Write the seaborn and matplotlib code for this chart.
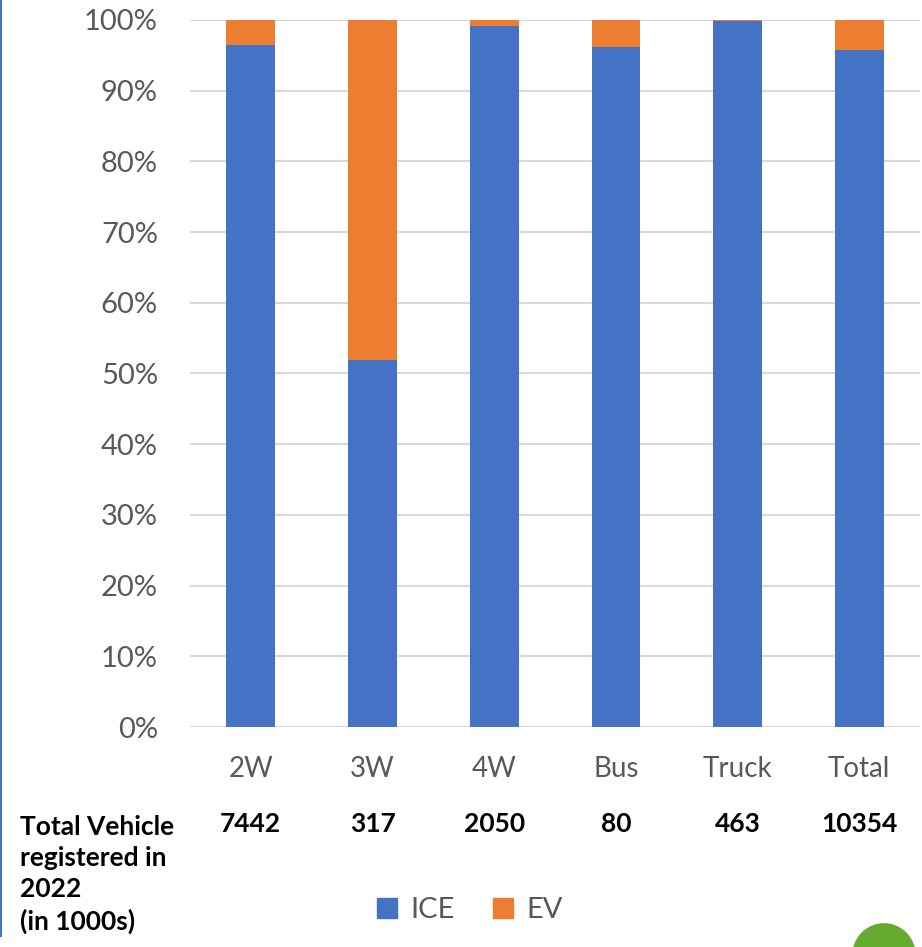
import matplotlib
matplotlib.use("Agg")
import matplotlib.pyplot as plt
import seaborn as sns
import pandas as pd
from matplotlib.patches import Patch, Circle, Rectangle

# data
categories = ["2W", "3W", "4W", "Bus", "Truck", "Total"]
ice_share = [96.4, 51.9, 99.2, 96.2, 99.9, 95.7]
ev_share = [100 - v for v in ice_share]
totals_k = ["7442", "317", "2050", "80", "463", "10354"]

ICE_COLOR = "#4472C4"
EV_COLOR = "#ED7D31"
GRAY = "#595959"

sns.set_style("white")
plt.rcParams["font.family"] = ["Lato", "DejaVu Sans"]

df = pd.DataFrame({"category": categories, "ICE": ice_share, "EV": ev_share})
df["stack_top"] = df["ICE"] + df["EV"]

fig = plt.figure(figsize=(9.22, 9.47), dpi=100)
ax = fig.add_axes([0.206, 0.2323, 0.792, 0.7466])

# stacked bars: full height in orange, ICE share drawn over it
sns.barplot(data=df, x="category", y="stack_top", color=EV_COLOR, width=0.4,
            saturation=1, ax=ax, order=categories, linewidth=0)
sns.barplot(data=df, x="category", y="ICE", color=ICE_COLOR, width=0.4,
            saturation=1, ax=ax, order=categories, linewidth=0)

ax.set_ylim(0, 100)
ax.set_yticks(range(0, 101, 10))
ax.set_yticklabels([f"{v}%" for v in range(0, 101, 10)])
ax.yaxis.grid(True, color="#d9d9d9", linewidth=1.5)
ax.set_axisbelow(True)
ax.set_xlabel("")
ax.set_ylabel("")
for s in ax.spines.values():
    s.set_visible(False)
ax.tick_params(axis="y", length=0, pad=23, labelsize=21, labelcolor=GRAY)
ax.tick_params(axis="x", length=0, pad=21, labelsize=20, labelcolor=GRAY)

# totals row under the category labels
trans = matplotlib.transforms.blended_transform_factory(ax.transData, fig.transFigure)
for i, t in enumerate(totals_k):
    ax.text(i, 1 - 824 / 947, t, transform=trans, ha="center", va="center",
            fontsize=19, fontweight="bold", color="black")

fig.text(20 / 922, 1 - 815 / 947,
         "Total Vehicle\nregistered in\n2022\n(in 1000s)",
         ha="left", va="top", fontsize=19, fontweight="bold",
         color="black", linespacing=1.36)

handles = [Patch(color=ICE_COLOR, label="ICE"), Patch(color=EV_COLOR, label="EV")]
fig.legend(handles=handles, loc="center", bbox_to_anchor=(470 / 922, 1 - 910 / 947),
           ncol=2, frameon=False, fontsize=21, labelcolor=GRAY,
           handlelength=0.7, handleheight=0.7, handletextpad=0.45, columnspacing=1.3)

# thin blue rule on the left edge and the green globe in the corner
fig.add_artist(Rectangle((0, 1 - 937 / 947), 2 / 922, 937 / 947,
                         transform=fig.transFigure, color=ICE_COLOR, lw=0))
fig.add_artist(Circle((884 / 922, 1 - 956 / 947), 32 / 922,
                      transform=fig.transFigure, color="#62AB2E", lw=0))

fig.savefig("out.png", dpi=100)
